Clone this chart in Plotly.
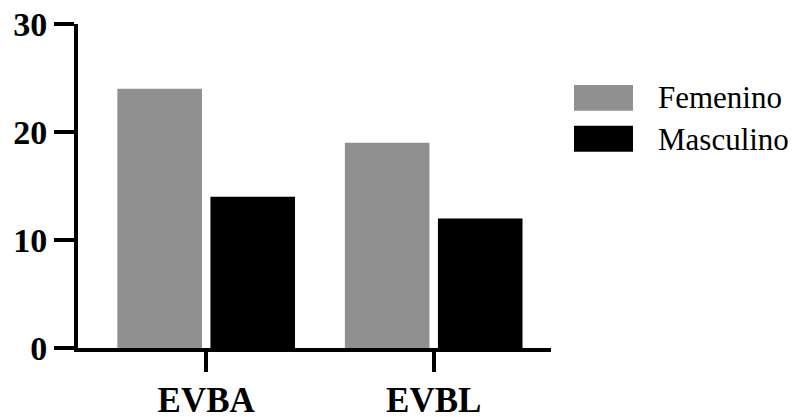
import plotly.graph_objects as go

categories = ["EVBA", "EVBL"]
femenino = [24, 19]
masculino = [14, 12]
series_names = ["Femenino", "Masculino"]
series_colors = ["#909090", "#000000"]
y_ticks = [0, 10, 20, 30]

fig = go.Figure()
for name, vals, col in zip(series_names, [femenino, masculino], series_colors):
    fig.add_trace(go.Bar(x=categories, y=vals, name=name, marker=dict(color=col, line=dict(width=0)),
                         showlegend=False, hoverinfo="skip"))

L, R, T, B = 78, 243, 24, 68.5
W, H = 794, 417
pw, ph = W - L - R, H - T - B

def px(xp):
    return (xp - L) / pw

def py(yp):
    return (H - B - yp) / ph

# custom legend (large swatches)
legend_rows = [(85, 111, 98), (126, 152, 140)]
for (y0, y1, yc), name, col in zip(legend_rows, series_names, series_colors):
    fig.add_shape(type="rect", xref="paper", yref="paper", x0=px(574), x1=px(633), y0=py(y1), y1=py(y0),
                  fillcolor=col, line=dict(width=0))
    fig.add_annotation(xref="paper", yref="paper", x=px(656), y=py(yc), text=name, showarrow=False,
                       xanchor="left", yanchor="middle",
                       font=dict(family="Liberation Serif", size=31, color="black"))

fig.update_layout(
    width=W, height=H,
    margin=dict(l=L, r=R, t=T, b=B, autoexpand=False),
    plot_bgcolor="white", paper_bgcolor="white",
    barmode="group", bargap=0.182, bargroupgap=0.091,
    xaxis=dict(range=[-0.5635, 1.5156], showline=True, linecolor="black", linewidth=4,
               ticks="outside", ticklen=20, tickwidth=4, tickcolor="black", automargin=False,
               tickfont=dict(family="Liberation Serif", size=35, color="black", weight="bold"),
               ticklabelstandoff=-2,
               showgrid=False, zeroline=False),
    yaxis=dict(range=[0, 30], tickvals=y_ticks, showline=True, linecolor="black", linewidth=4,
               ticks="outside", ticklen=20, tickwidth=4, tickcolor="black", automargin=False,
               tickfont=dict(family="Liberation Serif", size=34, color="black", weight="bold"),
               showgrid=False, zeroline=False),
)

fig.write_html("out.html", config={"displayModeBar": False, "staticPlot": True},
               post_script="document.body.style.margin='0';document.body.style.padding='0';")
